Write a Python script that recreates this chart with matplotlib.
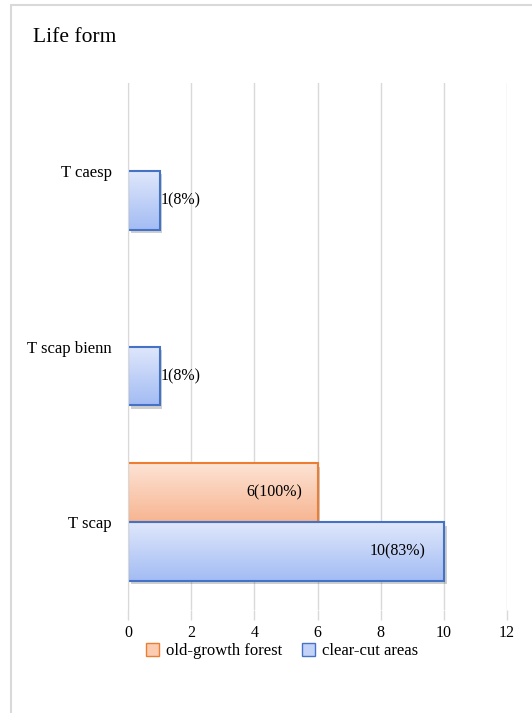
import numpy as np
import matplotlib.pyplot as plt
from matplotlib.patches import Rectangle
import matplotlib.patheffects as pe

plt.rcParams['font.family'] = ['Liberation Serif', 'DejaVu Serif']

categories = ['T scap', 'T scap bienn', 'T caesp']
old_growth = [6, 0, 0]
clear_cut = [10, 1, 1]
old_growth_pct = ['100%', '', '']
clear_cut_pct = ['83%', '8%', '8%']
series_names = ['old-growth forest', 'clear-cut areas']
xticks = [0, 2, 4, 6, 8, 10, 12]

orange_top, orange_bot, orange_edge = '#fde3d5', '#f7b591', '#ed7d31'
blue_top, blue_bot, blue_edge = '#dfe7fb', '#a3bcf4', '#4472c4'


def gradient_bar(ax, x0, w, y0, h, ctop, cbot, edge):
    # white base that carries the soft shadow
    base = Rectangle((x0, y0), w, h, facecolor='white', edgecolor='none', zorder=2)
    base.set_path_effects([pe.SimplePatchShadow(offset=(2, -2.5), alpha=0.28, shadow_rgbFace='#555555'), pe.Normal()])
    ax.add_patch(base)
    c1 = np.array(plt.matplotlib.colors.to_rgb(ctop))
    c2 = np.array(plt.matplotlib.colors.to_rgb(cbot))
    t = np.linspace(0, 1, 100)[:, None]
    grad = (c1 * (1 - t) + c2 * t)[:, None, :]
    ax.imshow(grad, extent=[x0, x0 + w, y0, y0 + h], origin='upper', aspect='auto', zorder=3)
    ax.add_patch(Rectangle((x0, y0), w, h, facecolor='none', edgecolor=edge, linewidth=1.5, zorder=4))


fig = plt.figure(figsize=(5.32, 7.13), dpi=100)
ax = fig.add_axes([128 / 532, 103 / 713, (507 - 128) / 532, (610 - 83) / 713])

bh = 0.335
fs = 11.5
for i in range(len(categories)):
    if old_growth[i] > 0:
        gradient_bar(ax, 0, old_growth[i], i, bh, orange_top, orange_bot, orange_edge)
        ax.text(old_growth[i] - 0.47, i + bh / 2, f'{old_growth[i]}({old_growth_pct[i]})',
                ha='right', va='center', fontsize=fs, zorder=5)
    if clear_cut[i] > 0:
        gradient_bar(ax, 0, clear_cut[i], i - bh, bh, blue_top, blue_bot, blue_edge)
        if clear_cut[i] >= 3:
            ax.text(clear_cut[i] - 0.58, i - bh / 2, f'{clear_cut[i]}({clear_cut_pct[i]})',
                    ha='right', va='center', fontsize=fs, zorder=5)
        else:
            ax.text(clear_cut[i] + 0.02, i - bh / 2, f'{clear_cut[i]}({clear_cut_pct[i]})',
                    ha='left', va='center', fontsize=fs, zorder=5)

ax.set_xlim(0, 12)
ax.set_ylim(-0.5, 2.5)
ax.set_xticks(xticks)
ax.set_yticks(range(len(categories)))
ax.set_yticklabels(categories, fontsize=12)
ax.tick_params(axis='y', length=0, pad=11.5)
ax.tick_params(axis='x', length=7.5, color='#d9d9d9', width=1, labelsize=11.5, pad=3)
ax.grid(axis='x', color='#d9d9d9', linewidth=1, zorder=0)
ax.set_axisbelow(True)
for s in ['top', 'right', 'bottom']:
    ax.spines[s].set_visible(False)
ax.spines['left'].set_color('#d9d9d9')
ax.spines['left'].set_zorder(6)

fig.text(33 / 532, 1 - 38 / 713, 'Life form', fontsize=15.5, va='center', ha='left')

handles = [Rectangle((0, 0), 1, 1, facecolor='#fbccb2', edgecolor=orange_edge, linewidth=1),
           Rectangle((0, 0), 1, 1, facecolor='#c3d3f8', edgecolor=blue_edge, linewidth=1)]
fig.legend(handles, series_names, loc='center', bbox_to_anchor=(282 / 532, 1 - 651 / 713),
           ncol=2, frameon=False, fontsize=12, handlelength=0.8, handleheight=0.8,
           handletextpad=0.4, columnspacing=1.2)

fig.patches.append(Rectangle((11 / 532, -0.02), 1.0, 1 - 5 / 713 + 0.02, transform=fig.transFigure,
                             facecolor='none', edgecolor='#d9d9d9', linewidth=1.5))

fig.savefig('out.png', dpi=100)
